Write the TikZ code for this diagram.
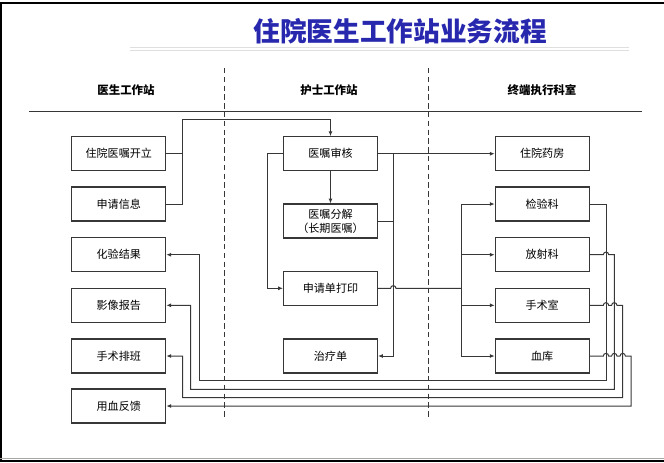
\documentclass[tikz,border=0pt]{standalone}
\usepackage{fontspec}
\setmainfont{Noto Sans CJK SC}
\usetikzlibrary{arrows.meta}
\definecolor{titleblue}{RGB}{40,40,175}
\definecolor{ln}{RGB}{55,55,55}
\tikzset{
  box/.style={draw=ln,line width=0.8pt,minimum width=70.5pt,minimum height=25.5pt,inner sep=0pt,font=\fontsize{8.3}{10.5}\selectfont,align=center},
  hdr/.style={font=\bfseries\fontsize{8.6}{10}\selectfont},
  conn/.style={draw=ln,line width=0.75pt},
  arr/.style={conn,-{Latex[length=3.6pt,width=3pt]}},
  hop/.style={}
}
\newcommand{\hp}{arc[start angle=180,end angle=0,radius=2pt]}
\begin{document}
\begin{tikzpicture}[x=0.75pt,y=-0.75pt]
\useasboundingbox (0,0) rectangle (664,462);
% frame
\draw[black,line width=1.7pt] (1.2,462) -- (1.2,3) -- (664,3);
\draw[gray!70,line width=0.75pt] (0,458.8) -- (664,458.8);
\draw[black,line width=1.3pt] (0,461.3) -- (664,461.3);
% title
\node (title) at (400,31) {\color{titleblue}\bfseries\fontsize{20}{24}\selectfont 住院医生工作站业务流程};
\draw[gray!25,line width=0.8pt] (130,47.5) -- (629,47.5);
\draw[gray!25,line width=0.8pt] (130,50.3) -- (629,50.3);
% headers
\node[hdr] (h1) at (126,90) {医生工作站};
\node[hdr] (h2) at (329,90) {护士工作站};
\node[hdr] (h3) at (542,90) {终端执行科室};
\draw[ln,line width=0.8pt] (29,111.5) -- (642,111.5);
\draw[ln,line width=0.75pt,dash pattern=on 4pt off 2.6pt] (224.8,68) -- (224.8,419);
\draw[ln,line width=0.75pt,dash pattern=on 4pt off 2.6pt] (428,68) -- (428,419);
% left column
\node[box] (l1) at (118.8,153.7) {住院医嘱开立};
\node[box] (l2) at (118.8,204) {申请信息};
\node[box] (l3) at (118.8,254.7) {化验结果};
\node[box] (l4) at (118.8,305.3) {影像报告};
\node[box] (l5) at (118.8,356) {手术排班};
\node[box] (l6) at (118.8,406) {用血反馈};
% middle column
\node[box] (m1) at (330.5,153.7) {医嘱审核};
\node[box] (m2) at (330.5,221) {医嘱分解\\（长期医嘱）};
\node[box] (m3) at (330.5,288.3) {申请单打印};
\node[box] (m4) at (330.5,356) {治疗单};
% right column
\node[box] (r1) at (542.2,153.7) {住院药房};
\node[box] (r2) at (542.2,204) {检验科};
\node[box] (r3) at (542.2,254.7) {放射科};
\node[box] (r4) at (542.2,305.3) {手术室};
\node[box] (r5) at (542.2,356) {血库};
% bus coordinates
\coordinate (busL) at (182.3,119.3);
\coordinate (lm) at (267.3,0);
\coordinate (rm) at (393.3,0);
\coordinate (dx) at (461.7,0);
\coordinate (c1) at (606,380.7);
\coordinate (c2) at (614.3,389.3);
\coordinate (c3) at (622.7,397.7);
\coordinate (c4) at (631,406);
\coordinate (d1) at (199,380.7);
\coordinate (d2) at (190.7,389.3);
\coordinate (d3) at (182.7,397.7);
% doctor -> nurse
\draw[conn] (l1.east) -- (l1.east -| busL);
\draw[arr] (l2.east) -- (l2.east -| busL) -- (busL) -| (m1.north);
\draw[arr] (m1.south) -- (m2.north);
\draw[arr] (m1.west) -- (m1.west -| lm) |- (m3.west);
\draw[arr] (m1.east) -- (r1.west);
\draw[arr] (m1.east -| rm) |- (m4.east);
\draw[conn] (m2.east) -- (m2.east -| rm);
\draw[conn] (m3.east) -- ([xshift=-2pt]m3.east -| rm) \hp -- (m3.east -| dx);
\draw[arr] (m3.east -| dx) |- (r2.west);
\draw[arr] (m3.east -| dx) |- (r5.west);
\draw[arr] (r3.west -| dx) -- (r3.west);
\draw[arr] (r4.west -| dx) -- (r4.west);
% returns
\draw[arr] (r2.east) -| (c1) -- (d1) |- (l3.east);
\draw[arr] (r3.east) -- ([xshift=-2pt]r3.east -| c1) \hp -- (r3.east -| c2) -- (c2) -- (d2) |- (l4.east);
\draw[arr] (r4.east) -- ([xshift=-2pt]r4.east -| c1) \hp -- ([xshift=-2pt]r4.east -| c2) \hp -- (r4.east -| c3) -- (c3) -- (d3) |- (l5.east);
\draw[arr] (r5.east) -- ([xshift=-2pt]r5.east -| c1) \hp -- ([xshift=-2pt]r5.east -| c2) \hp -- ([xshift=-2pt]r5.east -| c3) \hp -- (r5.east -| c4) -- (c4) -- (l6.east);
\end{tikzpicture}
\end{document}
